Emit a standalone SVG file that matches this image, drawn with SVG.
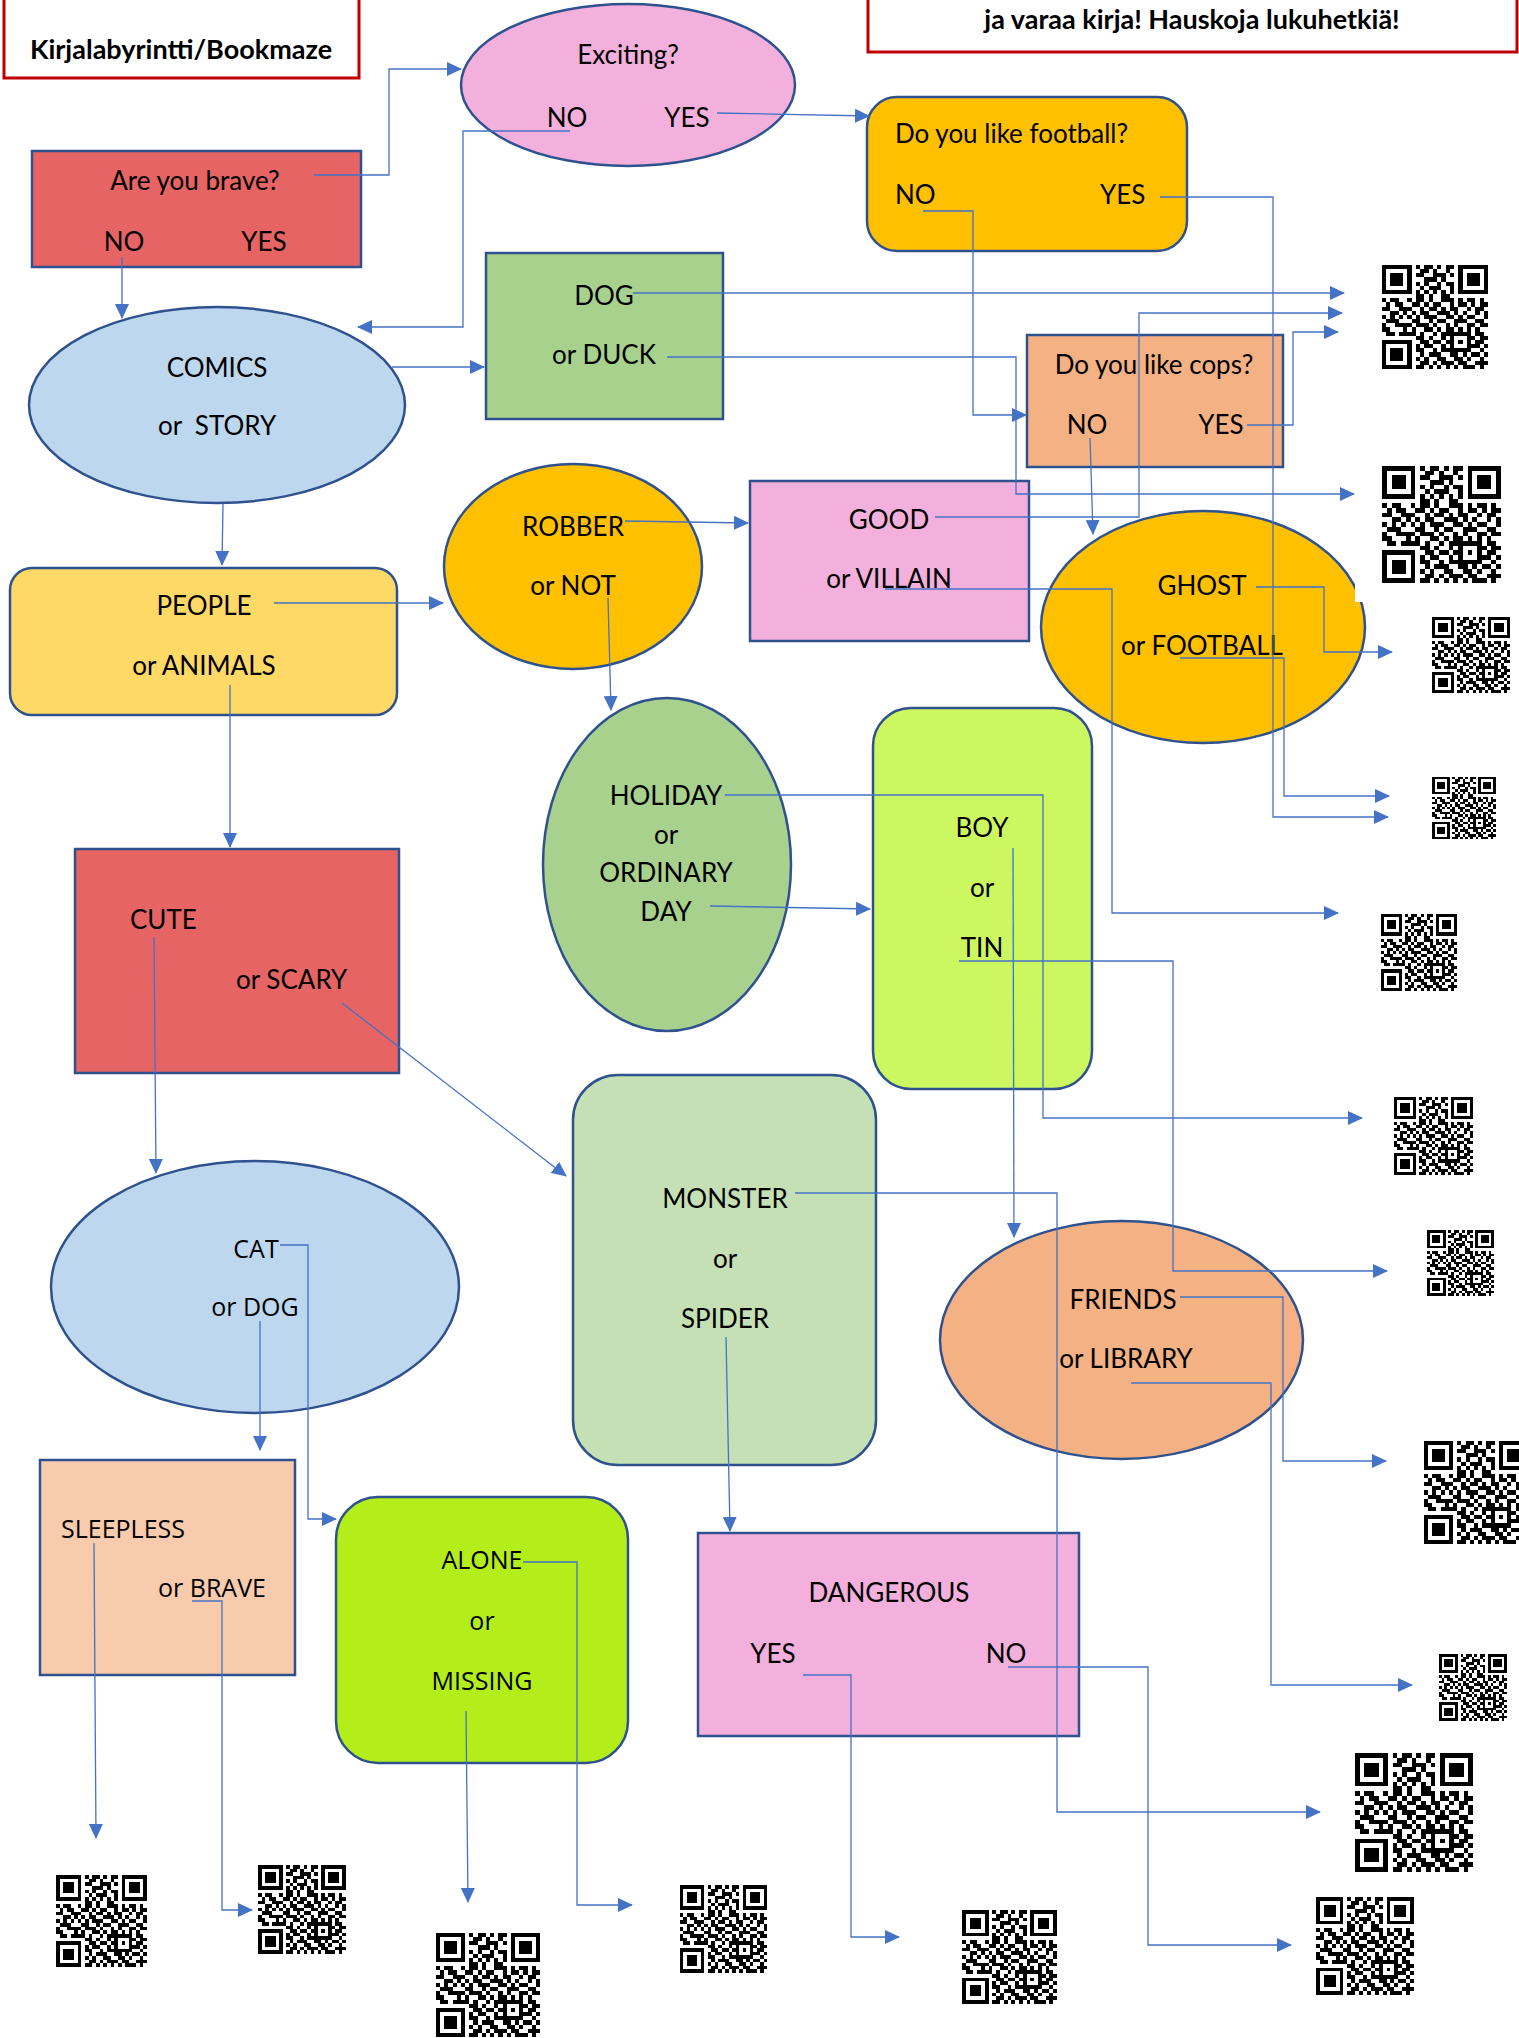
<svg xmlns="http://www.w3.org/2000/svg" xmlns:xlink="http://www.w3.org/1999/xlink" width="1519" height="2038" viewBox="0 0 1519 2038">
<style>
.n{stroke:#2F528F;stroke-width:2.5}
.t{font-family:Lato,"Liberation Sans",sans-serif;font-size:26px;fill:#000;text-anchor:middle}
.s{text-anchor:start}
.o{font-family:"Open Sans","DejaVu Sans",sans-serif;font-size:25px}
.b{font-weight:700;font-size:27px}
.c path{fill:none;stroke:#4472C4;stroke-width:1.3;marker-end:url(#arr)}
.q{shape-rendering:crispEdges}
</style>
<defs>
<marker id="arr" viewBox="0 0 15 14" refX="14" refY="7" markerWidth="15" markerHeight="14" markerUnits="userSpaceOnUse" orient="auto"><path d="M0,0 L15,7 L0,14 z" fill="#4472C4"/></marker>
<symbol id="qr" viewBox="0 0 25 25" preserveAspectRatio="none">
<g class="q" fill="#000">
<rect x="0.5" y="0.5" width="6" height="6" fill="none" stroke="#000" stroke-width="1"/><rect x="2" y="2" width="3" height="3"/>
<rect x="18.5" y="0.5" width="6" height="6" fill="none" stroke="#000" stroke-width="1"/><rect x="20" y="2" width="3" height="3"/>
<rect x="0.5" y="18.5" width="6" height="6" fill="none" stroke="#000" stroke-width="1"/><rect x="2" y="20" width="3" height="3"/>
<rect x="16.5" y="16.5" width="4" height="4" fill="none" stroke="#000" stroke-width="1"/><rect x="18" y="18" width="1" height="1"/>
<path d="M8 0h1v1h-1zM10 0h2v1h-2zM13 0h1v1h-1zM15 0h2v1h-2zM9 1h2v1h-2zM12 1h1v1h-1zM15 1h1v1h-1zM8 2h2v1h-2zM12 2h3v1h-3zM16 2h1v1h-1zM10 3h3v1h-3zM14 3h1v1h-1zM8 4h1v1h-1zM10 4h1v1h-1zM13 4h1v1h-1zM15 4h2v1h-2zM9 5h1v1h-1zM11 5h3v1h-3zM16 5h1v1h-1zM8 6h1v1h-1zM10 6h1v1h-1zM12 6h1v1h-1zM14 6h1v1h-1zM16 6h1v1h-1zM8 7h2v1h-2zM11 7h1v1h-1zM14 7h2v1h-2zM0 8h1v1h-1zM2 8h2v1h-2zM6 8h1v1h-1zM8 8h2v1h-2zM11 8h1v1h-1zM14 8h3v1h-3zM18 8h1v1h-1zM20 8h2v1h-2zM23 8h1v1h-1zM1 9h1v1h-1zM3 9h2v1h-2zM7 9h2v1h-2zM10 9h1v1h-1zM12 9h2v1h-2zM16 9h1v1h-1zM18 9h2v1h-2zM21 9h1v1h-1zM23 9h2v1h-2zM0 10h2v1h-2zM4 10h3v1h-3zM9 10h1v1h-1zM11 10h2v1h-2zM14 10h1v1h-1zM16 10h2v1h-2zM20 10h1v1h-1zM22 10h2v1h-2zM2 11h2v1h-2zM5 11h1v1h-1zM7 11h1v1h-1zM9 11h2v1h-2zM13 11h3v1h-3zM17 11h1v1h-1zM19 11h1v1h-1zM22 11h1v1h-1zM24 11h1v1h-1zM0 12h1v1h-1zM2 12h1v1h-1zM4 12h1v1h-1zM6 12h1v1h-1zM8 12h1v1h-1zM10 12h3v1h-3zM15 12h2v1h-2zM18 12h1v1h-1zM20 12h2v1h-2zM24 12h1v1h-1zM1 13h3v1h-3zM7 13h2v1h-2zM11 13h1v1h-1zM13 13h2v1h-2zM17 13h3v1h-3zM22 13h2v1h-2zM0 14h1v1h-1zM3 14h4v1h-4zM8 14h3v1h-3zM12 14h1v1h-1zM15 14h1v1h-1zM17 14h1v1h-1zM20 14h2v1h-2zM23 14h2v1h-2zM0 15h2v1h-2zM5 15h1v1h-1zM7 15h1v1h-1zM10 15h2v1h-2zM13 15h1v1h-1zM15 15h2v1h-2zM18 15h1v1h-1zM20 15h1v1h-1zM22 15h1v1h-1zM1 16h2v1h-2zM4 16h4v1h-4zM9 16h1v1h-1zM12 16h1v1h-1zM14 16h2v1h-2zM22 16h2v1h-2zM8 17h2v1h-2zM11 17h1v1h-1zM14 17h1v1h-1zM21 17h1v1h-1zM23 17h2v1h-2zM9 18h2v1h-2zM12 18h2v1h-2zM15 18h1v1h-1zM22 18h2v1h-2zM8 19h1v1h-1zM10 19h2v1h-2zM14 19h1v1h-1zM21 19h2v1h-2zM24 19h1v1h-1zM8 20h2v1h-2zM12 20h1v1h-1zM14 20h2v1h-2zM23 20h1v1h-1zM9 21h1v1h-1zM11 21h3v1h-3zM16 21h2v1h-2zM19 21h1v1h-1zM21 21h2v1h-2zM24 21h1v1h-1zM8 22h1v1h-1zM10 22h1v1h-1zM13 22h2v1h-2zM17 22h2v1h-2zM20 22h1v1h-1zM23 22h1v1h-1zM9 23h2v1h-2zM12 23h1v1h-1zM14 23h3v1h-3zM18 23h2v1h-2zM22 23h3v1h-3zM8 24h2v1h-2zM11 24h1v1h-1zM13 24h1v1h-1zM15 24h1v1h-1zM17 24h1v1h-1zM19 24h3v1h-3zM23 24h1v1h-1z"/>
</g>
</symbol>
</defs>
<rect width="1519" height="2038" fill="#fff"/>

<g id="title">
<rect x="4" y="-3" width="355" height="81" fill="#fff" stroke="#C00000" stroke-width="3"/>
<text class="t b" x="181" y="59">Kirjalabyrintti/Bookmaze</text>
</g>
<g id="note">
<rect x="868" y="-3" width="649" height="55" fill="#fff" stroke="#C00000" stroke-width="3"/>
<text class="t b" x="1192" y="29">ja varaa kirja! Hauskoja lukuhetkiä!</text>
</g>

<g id="exciting">
<ellipse class="n" cx="628" cy="85" rx="167" ry="81" fill="#F3B0DC"/>
<text class="t" x="628" y="64">Exciting?</text>
<text class="t" x="567" y="127">NO</text>
<text class="t" x="687" y="127">YES</text>
</g>
<g id="brave">
<rect class="n" x="32" y="151" width="329" height="116" fill="#E66464"/>
<text class="t" x="195" y="190">Are you brave?</text>
<text class="t" x="124" y="251">NO</text>
<text class="t" x="264" y="251">YES</text>
</g>
<g id="football">
<rect class="n" x="867" y="97" width="320" height="154" rx="30" fill="#FFC000"/>
<text class="t s" x="895" y="143">Do you like football?</text>
<text class="t s" x="895" y="204">NO</text>
<text class="t s" x="1100" y="204">YES</text>
</g>
<g id="comics">
<ellipse class="n" cx="217" cy="405" rx="188" ry="98" fill="#BDD7EE"/>
<text class="t" x="217" y="377">COMICS</text>
<text class="t" x="217" y="435" xml:space="preserve">or  STORY</text>
</g>
<g id="dog">
<rect class="n" x="486" y="253" width="237" height="166" fill="#A9D18E"/>
<text class="t" x="604" y="305">DOG</text>
<text class="t" x="604" y="364">or DUCK</text>
</g>
<g id="cops">
<rect class="n" x="1027" y="335" width="256" height="132" fill="#F4B183"/>
<text class="t" x="1154" y="374">Do you like cops?</text>
<text class="t" x="1087" y="434">NO</text>
<text class="t" x="1221" y="434">YES</text>
</g>
<g id="robber">
<ellipse class="n" cx="573" cy="566.5" rx="129" ry="102.5" fill="#FFC000"/>
<text class="t" x="573" y="536">ROBBER</text>
<text class="t" x="573" y="595">or NOT</text>
</g>
<g id="good">
<rect class="n" x="750" y="481" width="279" height="160" fill="#F3B0DC"/>
<text class="t" x="889" y="529">GOOD</text>
<text class="t" x="889" y="588">or VILLAIN</text>
</g>
<g id="ghost">
<ellipse class="n" cx="1203" cy="627" rx="162" ry="116" fill="#FFC000"/>
<rect x="1355" y="582" width="14" height="20" fill="#fff"/>
<text class="t" x="1202" y="595">GHOST</text>
<text class="t" x="1202" y="655">or FOOTBALL</text>
</g>
<g id="people">
<rect class="n" x="10" y="568" width="387" height="147" rx="22" fill="#FFD966"/>
<text class="t" x="204" y="615">PEOPLE</text>
<text class="t" x="204" y="675">or ANIMALS</text>
</g>
<g id="cute">
<rect class="n" x="75" y="849" width="324" height="224" fill="#E66464"/>
<text class="t s" x="130" y="929">CUTE</text>
<text class="t s" x="236" y="989">or SCARY</text>
</g>
<g id="holiday">
<ellipse class="n" cx="667" cy="864.5" rx="124" ry="166.5" fill="#A9D18E"/>
<text class="t" x="666" y="805">HOLIDAY</text>
<text class="t" x="666" y="844">or</text>
<text class="t" x="666" y="882">ORDINARY</text>
<text class="t" x="666" y="921">DAY</text>
</g>
<g id="boy">
<rect class="n" x="873" y="708" width="219" height="381" rx="38" fill="#CDF760"/>
<text class="t" x="982" y="837">BOY</text>
<text class="t" x="982" y="897">or</text>
<text class="t" x="982" y="957">TIN</text>
</g>
<g id="cat">
<ellipse class="n" cx="255" cy="1287" rx="204" ry="126" fill="#BDD7EE"/>
<text class="t o" x="256" y="1258">CAT</text>
<text class="t o" x="255" y="1316">or DOG</text>
</g>
<g id="monster">
<rect class="n" x="573" y="1075" width="303" height="390" rx="45" fill="#C5E0B4"/>
<text class="t" x="725" y="1208">MONSTER</text>
<text class="t" x="725" y="1268">or</text>
<text class="t" x="725" y="1328">SPIDER</text>
</g>
<g id="friends">
<ellipse class="n" cx="1121.5" cy="1340" rx="181.5" ry="119" fill="#F4B183"/>
<text class="t" x="1123" y="1309">FRIENDS</text>
<text class="t" x="1126" y="1368">or LIBRARY</text>
</g>
<g id="sleepless">
<rect class="n" x="40" y="1460" width="255" height="215" fill="#F8CBAD"/>
<text class="t o s" x="61" y="1538">SLEEPLESS</text>
<text class="t o s" x="158" y="1597">or BRAVE</text>
</g>
<g id="alone">
<rect class="n" x="336" y="1497" width="292" height="266" rx="42" fill="#B3EE1B"/>
<text class="t o" x="482" y="1569">ALONE</text>
<text class="t o" x="482" y="1630">or</text>
<text class="t o" x="482" y="1690">MISSING</text>
</g>
<g id="dangerous">
<rect class="n" x="698" y="1533" width="381" height="203" fill="#F3B0DC"/>
<text class="t" x="889" y="1602">DANGEROUS</text>
<text class="t" x="773" y="1663">YES</text>
<text class="t" x="1006" y="1663">NO</text>
</g>

<g id="qrcodes">
<use xlink:href="#qr" x="1382" y="265" width="106" height="104"/>
<use xlink:href="#qr" x="1382" y="466" width="119" height="117"/>
<use xlink:href="#qr" x="1432" y="617" width="78" height="76"/>
<use xlink:href="#qr" x="1432" y="777" width="64" height="62"/>
<use xlink:href="#qr" x="1381" y="914" width="76" height="77"/>
<use xlink:href="#qr" x="1394" y="1097" width="79" height="78"/>
<use xlink:href="#qr" x="1427" y="1230" width="67" height="66"/>
<use xlink:href="#qr" x="1424" y="1441" width="104" height="103"/>
<use xlink:href="#qr" x="1439" y="1654" width="68" height="67"/>
<use xlink:href="#qr" x="1355" y="1753" width="118" height="119"/>
<use xlink:href="#qr" x="1316" y="1897" width="98" height="98"/>
<use xlink:href="#qr" x="962" y="1910" width="95" height="94"/>
<use xlink:href="#qr" x="680" y="1885" width="87" height="88"/>
<use xlink:href="#qr" x="436" y="1933" width="104" height="104"/>
<use xlink:href="#qr" x="258" y="1865" width="88" height="89"/>
<use xlink:href="#qr" x="56" y="1875" width="91" height="92"/>
</g>

<g id="connectors" class="c">
<path d="M314,175 H389 V69 H461"/>
<path d="M122,257 V318"/>
<path d="M570,131 H463 V327 H358"/>
<path d="M717,113 L869,116"/>
<path d="M392,367 H484"/>
<path d="M223,504 L222,565"/>
<path d="M633,293 H1344"/>
<path d="M667,357 H1016 V494 H1354"/>
<path d="M923,211 H973 V415 H1026"/>
<path d="M1160,197 H1273 V817 H1388"/>
<path d="M1247,425 H1293 V332 H1338"/>
<path d="M935,517 H1139 V313 H1342"/>
<path d="M1090,438 L1093,534"/>
<path d="M625,521 L748,523"/>
<path d="M608,598 L611,710"/>
<path d="M274,603 H443"/>
<path d="M230,685 V847"/>
<path d="M154,937 L156,1173"/>
<path d="M342,1003 L566,1176"/>
<path d="M725,795 H1043 V1118 H1362"/>
<path d="M710,906 L870,909"/>
<path d="M1013,848 L1014,1237"/>
<path d="M959,961 H1173 V1271 H1387"/>
<path d="M885,589 H1112 V913 H1338"/>
<path d="M1256,587 H1324 V652 H1392"/>
<path d="M1180,658 H1284 V796 H1389"/>
<path d="M280,1245 H308 V1519 H336"/>
<path d="M260,1321 V1450"/>
<path d="M94,1543 L96,1838"/>
<path d="M192,1601 H222 V1910 H252"/>
<path d="M523,1562 H577 V1905 H632"/>
<path d="M466,1711 L468,1902"/>
<path d="M795,1193 H1057 V1812 H1320"/>
<path d="M726,1337 L730,1531"/>
<path d="M1180,1297 H1283 V1461 H1386"/>
<path d="M1131,1383 H1271 V1685 H1412"/>
<path d="M803,1675 H851 V1937 H899"/>
<path d="M1008,1667 H1148 V1945 H1291"/>
</g>
</svg>
